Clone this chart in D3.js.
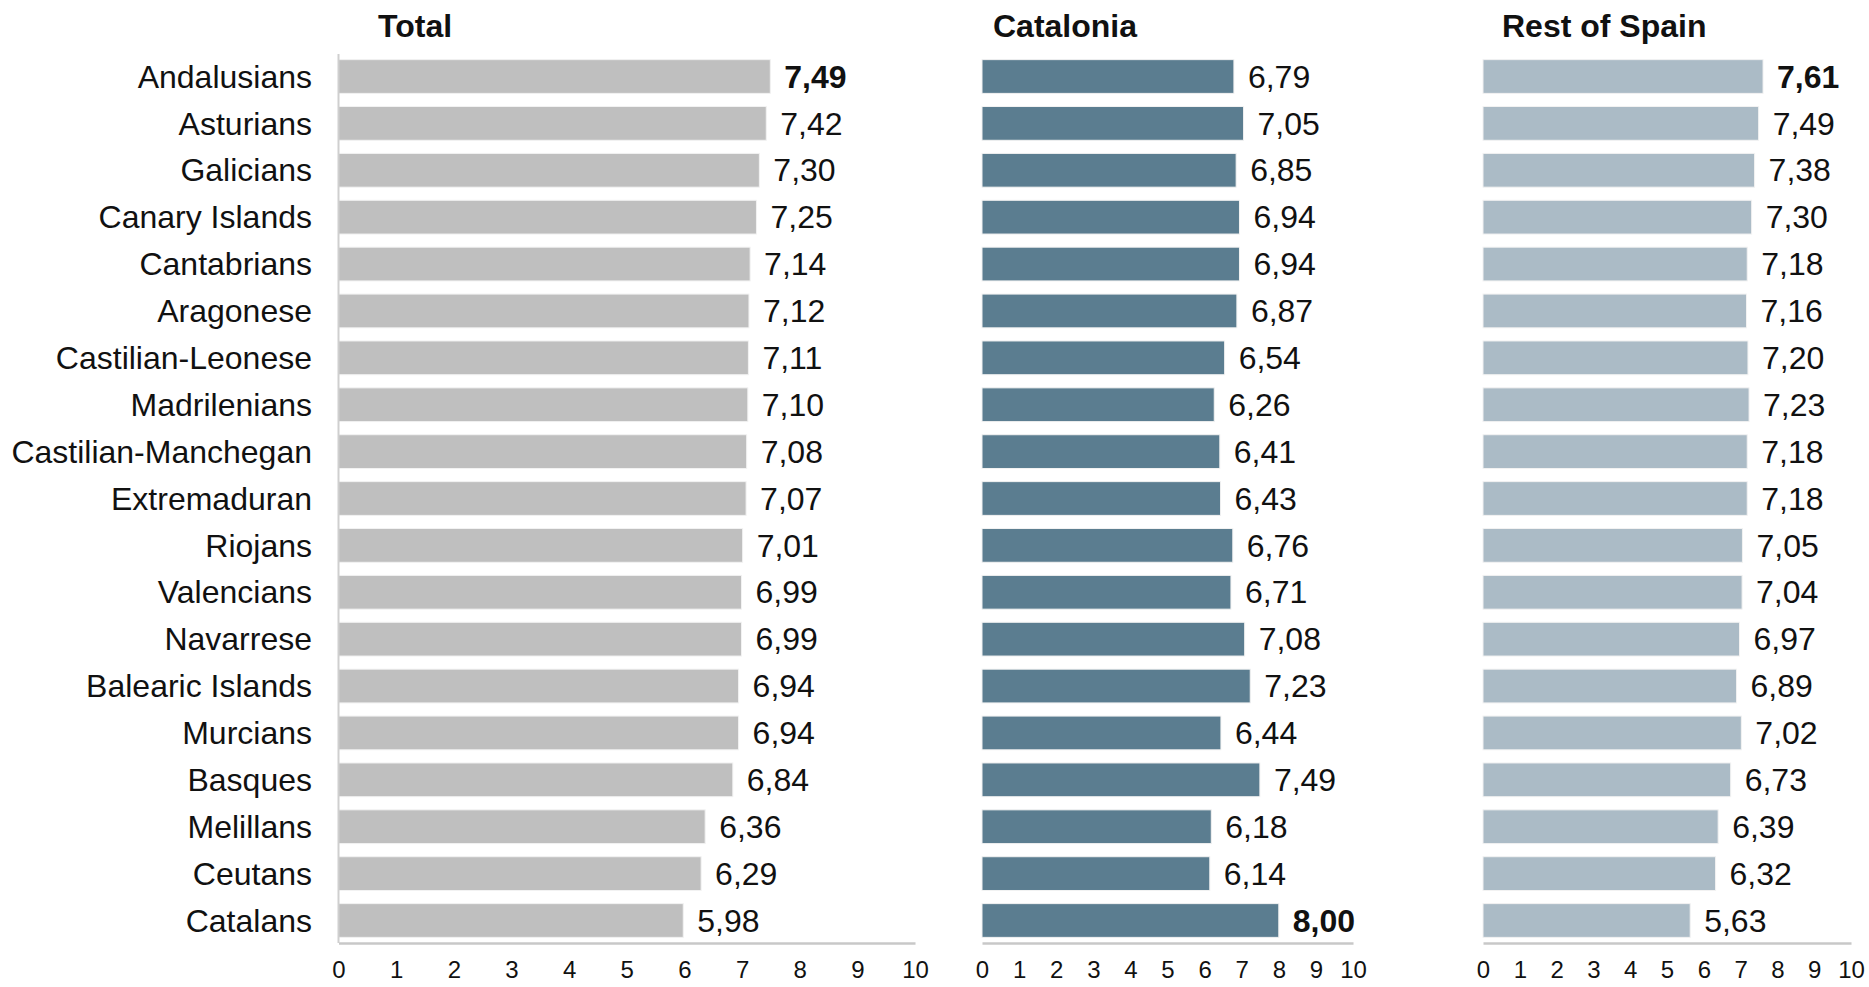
<!DOCTYPE html>
<html><head><meta charset="utf-8">
<script src="https://cdn.jsdelivr.net/npm/d3@7"></script>
<style>
html,body{margin:0;padding:0;background:#fff;}
svg text{font-family:"Liberation Sans",Arial,sans-serif;fill:#111;}
</style></head>
<body>
<svg id="chart" width="1869" height="987"></svg>
<script>
const categories = ["Andalusians","Asturians","Galicians","Canary Islands","Cantabrians","Aragonese","Castilian-Leonese","Madrilenians","Castilian-Manchegan","Extremaduran","Riojans","Valencians","Navarrese","Balearic Islands","Murcians ","Basques","Melillans","Ceutans","Catalans"];
const totalValues = [7.49,7.42,7.30,7.25,7.14,7.12,7.11,7.10,7.08,7.07,7.01,6.99,6.99,6.94,6.94,6.84,6.36,6.29,5.98];
const cataloniaValues = [6.79,7.05,6.85,6.94,6.94,6.87,6.54,6.26,6.41,6.43,6.76,6.71,7.08,7.23,6.44,7.49,6.18,6.14,8.00];
const restValues = [7.61,7.49,7.38,7.30,7.18,7.16,7.20,7.23,7.18,7.18,7.05,7.04,6.97,6.89,7.02,6.73,6.39,6.32,5.63];
const panelTitles = ["Total","Catalonia","Rest of Spain"];
const tickValues = [0,1,2,3,4,5,6,7,8,9,10];

const svg = d3.select("#chart");
const y = d3.scaleBand().domain(categories).range([54,943]).paddingInner(0.28).paddingOuter(0.12);

const panels = [
  {title: panelTitles[0], values: totalValues, x0: 338.5, x1: 915, color: "#bfbfbf", titleX: 378, leftAxis: true},
  {title: panelTitles[1], values: cataloniaValues, x0: 982, x1: 1353, color: "#5b7d90", titleX: 993, leftAxis: false},
  {title: panelTitles[2], values: restValues, x0: 1483, x1: 1851, color: "#abbbc6", titleX: 1502, leftAxis: false}
];

// category labels
svg.append("g").selectAll("text").data(categories).join("text")
  .attr("x", 312).attr("y", d => y(d) + y.bandwidth()/2)
  .attr("dy", "0.35em").attr("text-anchor", "end")
  .style("font-size", "32px").text(d => d.trim());

panels.forEach(p => {
  const x = d3.scaleLinear().domain([0,10]).range([p.x0, p.x1]);
  const g = svg.append("g");
  const maxV = d3.max(p.values);
  g.append("text").attr("x", p.titleX).attr("y", 37)
    .style("font-size", "32px").style("font-weight", "bold").text(p.title);
  g.selectAll("rect").data(p.values).join("rect")
    .attr("x", x(0)).attr("y", (d,i) => y(categories[i]))
    .attr("width", d => x(d) - x(0)).attr("height", y.bandwidth())
    .attr("fill", p.color).attr("stroke", "#f2f2f2").attr("stroke-width", 1);
  g.selectAll("text.val").data(p.values).join("text").attr("class","val")
    .attr("x", d => x(d) + 14).attr("y", (d,i) => y(categories[i]) + y.bandwidth()/2)
    .attr("dy", "0.35em").style("font-size", "32px")
    .style("font-weight", d => d === maxV ? "bold" : "normal")
    .text(d => d.toFixed(2).replace(".", ","));
  const axis = d3.axisBottom(x).tickValues(tickValues).tickSize(0).tickPadding(18).tickFormat(d => d);
  const ag = g.append("g").attr("transform", "translate(0,943)").call(axis);
  ag.select(".domain").attr("stroke", "#c8c8c8").attr("stroke-width", 2.5);
  ag.selectAll("text").style("font-size", "24px").style("font-family", '"Liberation Sans",Arial,sans-serif').attr("fill", "#111");
  if (p.leftAxis) {
    g.append("line").attr("x1", x(0)).attr("x2", x(0)).attr("y1", 54).attr("y2", 943)
      .attr("stroke", "#cfcfcf").attr("stroke-width", 2);
  }
});
</script>
</body></html>
